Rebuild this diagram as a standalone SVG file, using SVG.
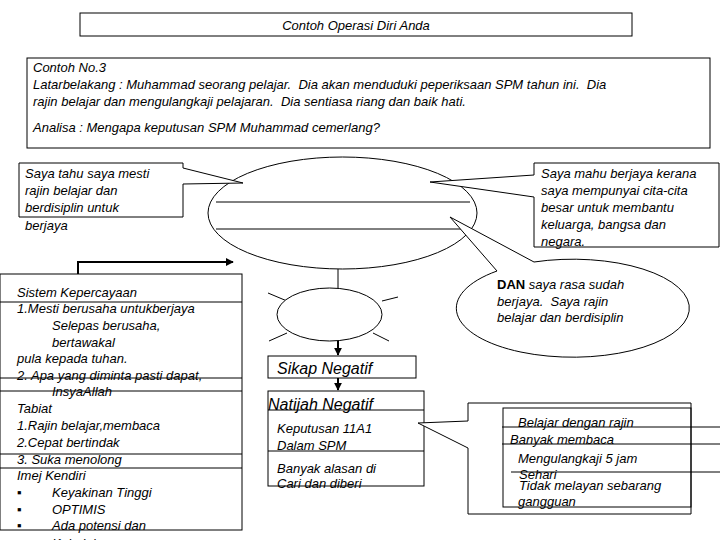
<svg xmlns="http://www.w3.org/2000/svg" width="720" height="540" viewBox="0 0 720 540">
<style>
.t{font-family:"Liberation Sans",Arial,sans-serif;font-size:13px;font-style:italic;fill:#000;white-space:pre}
.b{font-size:16px}
.s{fill:#fff;stroke:#000;stroke-width:1}
.l{fill:none;stroke:#000;stroke-width:1}
.a{fill:none;stroke:#000;stroke-width:2}
</style>
<defs>
<marker id="ah" viewBox="0 0 10 10" refX="9" refY="5" markerWidth="4" markerHeight="4" orient="auto" markerUnits="strokeWidth">
<path d="M0,0 L10,5 L0,10 Z" fill="#000"/>
</marker>
</defs>
<rect width="720" height="540" fill="#fff"/>

<g id="title">
<rect class="s" x="80" y="13" width="552" height="23"/>
<text class="t" x="356" y="30" text-anchor="middle">Contoh Operasi Diri Anda</text>
</g>

<g id="context">
<rect class="s" x="27" y="58" width="683" height="90"/>
<text class="t" x="33" y="72">Contoh No.3</text>
<text class="t" x="33" y="89">Latarbelakang : Muhammad seorang pelajar.  Dia akan menduduki peperiksaan SPM tahun ini.  Dia</text>
<text class="t" x="33" y="106">rajin belajar dan mengulangkaji pelajaran.  Dia sentiasa riang dan baik hati.</text>
<text class="t" x="33" y="132">Analisa : Mengapa keputusan SPM Muhammad cemerlang?</text>
</g>

<g id="connectors">
<line class="l" x1="338" y1="269" x2="338" y2="288"/>
<polyline class="a" points="78,280 78,262 233,262" marker-end="url(#ah)"/>
<line class="a" x1="338" y1="341" x2="338" y2="355" marker-end="url(#ah)"/>
<line class="a" x1="338" y1="378" x2="338" y2="390" marker-end="url(#ah)"/>
<line class="l" x1="268" y1="293" x2="287" y2="301"/>
<line class="l" x1="269" y1="341" x2="287" y2="333"/>
<line class="l" x1="382" y1="301" x2="398" y2="297"/>
<line class="l" x1="373" y1="333" x2="389" y2="341"/>
</g>

<g id="main-ellipse">
<ellipse class="s" cx="342.5" cy="213" rx="134.5" ry="56"/>
<line class="l" x1="216" y1="202" x2="470" y2="202"/>
<line class="l" x1="216" y1="229" x2="470" y2="229"/>
</g>

<g id="callout-left">
<path class="s" d="M19,163 H183 V168 L243,183 L183,184 V217 H19 Z"/>
<text class="t" x="25" y="178">Saya tahu saya mesti</text>
<text class="t" x="25" y="195">rajin belajar dan</text>
<text class="t" x="25" y="212">berdisiplin untuk</text>
<text class="t" x="25" y="230">berjaya</text>
</g>

<g id="callout-right">
<path class="s" d="M534,163 H719 V247 H534 V197 L430,182 L534,175 Z"/>
<text class="t" x="541" y="178">Saya mahu berjaya kerana</text>
<text class="t" x="541" y="195">saya mempunyai cita-cita</text>
<text class="t" x="541" y="212">besar untuk membantu</text>
<text class="t" x="541" y="229">keluarga, bangsa dan</text>
<text class="t" x="541" y="246">negara.</text>
</g>

<g id="bubble-dan">
<path class="s" d="M497,271 L450,217 L534,262 A116.5,49 0 1 1 497,271 Z"/>
<text class="t" x="497" y="289"><tspan font-weight="bold" font-style="normal">DAN</tspan> saya rasa sudah</text>
<text class="t" x="497" y="306">berjaya.  Saya rajin</text>
<text class="t" x="497" y="322">belajar dan berdisiplin</text>
</g>

<g id="small-ellipse">
<ellipse class="s" cx="329.5" cy="314.5" rx="52.5" ry="26.5"/>
</g>

<g id="sikap-negatif">
<rect class="s" x="268" y="356" width="148" height="22"/>
<text class="t b" x="277" y="374">Sikap Negatif</text>
</g>

<g id="natijah-negatif">
<rect class="s" x="268" y="391" width="156" height="95"/>
<line class="l" x1="268" y1="410" x2="424" y2="410"/>
<line class="l" x1="268" y1="451" x2="424" y2="451"/>
<text class="t b" x="268" y="410">Natijah Negatif</text>
<text class="t" x="277" y="433">Keputusan 11A1</text>
<text class="t" x="277" y="450">Dalam SPM</text>
<text class="t" x="277" y="473">Banyak alasan di</text>
<text class="t" x="277" y="488">Cari dan diberi</text>
</g>

<g id="belief-system">
<rect class="s" x="0" y="274" width="242" height="256"/>
<line class="l" x1="0" y1="302" x2="242" y2="302"/>
<line class="l" x1="0" y1="378" x2="242" y2="378"/>
<line class="l" x1="0" y1="391" x2="242" y2="391"/>
<line class="l" x1="0" y1="454" x2="242" y2="454"/>
<line class="l" x1="0" y1="468" x2="242" y2="468"/>
<text class="t" x="17" y="297">Sistem Kepercayaan</text>
<text class="t" x="17" y="313">1.Mesti berusaha untukberjaya</text>
<text class="t" x="52" y="330">Selepas berusaha,</text>
<text class="t" x="52" y="347">bertawakal</text>
<text class="t" x="17" y="363">pula kepada tuhan.</text>
<text class="t" x="17" y="380">2. Apa yang diminta pasti dapat,</text>
<text class="t" x="52" y="396">InsyaAllah</text>
<text class="t" x="17" y="413">Tabiat</text>
<text class="t" x="17" y="430">1.Rajin belajar,membaca</text>
<text class="t" x="17" y="447">2.Cepat bertindak</text>
<text class="t" x="17" y="464">3. Suka menolong</text>
<text class="t" x="17" y="480">Imej Kendiri</text>
<text class="t" x="17" y="497" font-style="normal">▪</text>
<text class="t" x="52" y="497">Keyakinan Tinggi</text>
<text class="t" x="17" y="514" font-style="normal">▪</text>
<text class="t" x="52" y="514">OPTIMIS</text>
<text class="t" x="17" y="530" font-style="normal">▪</text>
<text class="t" x="52" y="530">Ada potensi dan</text>
<text class="t" x="52" y="548">Kebolehan</text>
</g>

<g id="callout-actions">
<path class="s" d="M468,403 H691 V514 H468 V448 L418,423 L468,421 Z"/>
<rect class="l" x="503" y="408" width="188" height="99"/>
<line class="l" x1="502" y1="427" x2="720" y2="427"/>
<line class="l" x1="502" y1="444" x2="720" y2="444"/>
<line class="l" x1="511" y1="472" x2="720" y2="472"/>
<text class="t" x="518" y="427">Belajar dengan rajin</text>
<text class="t" x="510" y="444">Banyak membaca</text>
<text class="t" x="518" y="463">Mengulangkaji 5 jam</text>
<text class="t" x="519" y="479">Sehari</text>
<text class="t" x="519" y="490">Tidak melayan sebarang</text>
<text class="t" x="518" y="506">gangguan</text>
</g>
</svg>
